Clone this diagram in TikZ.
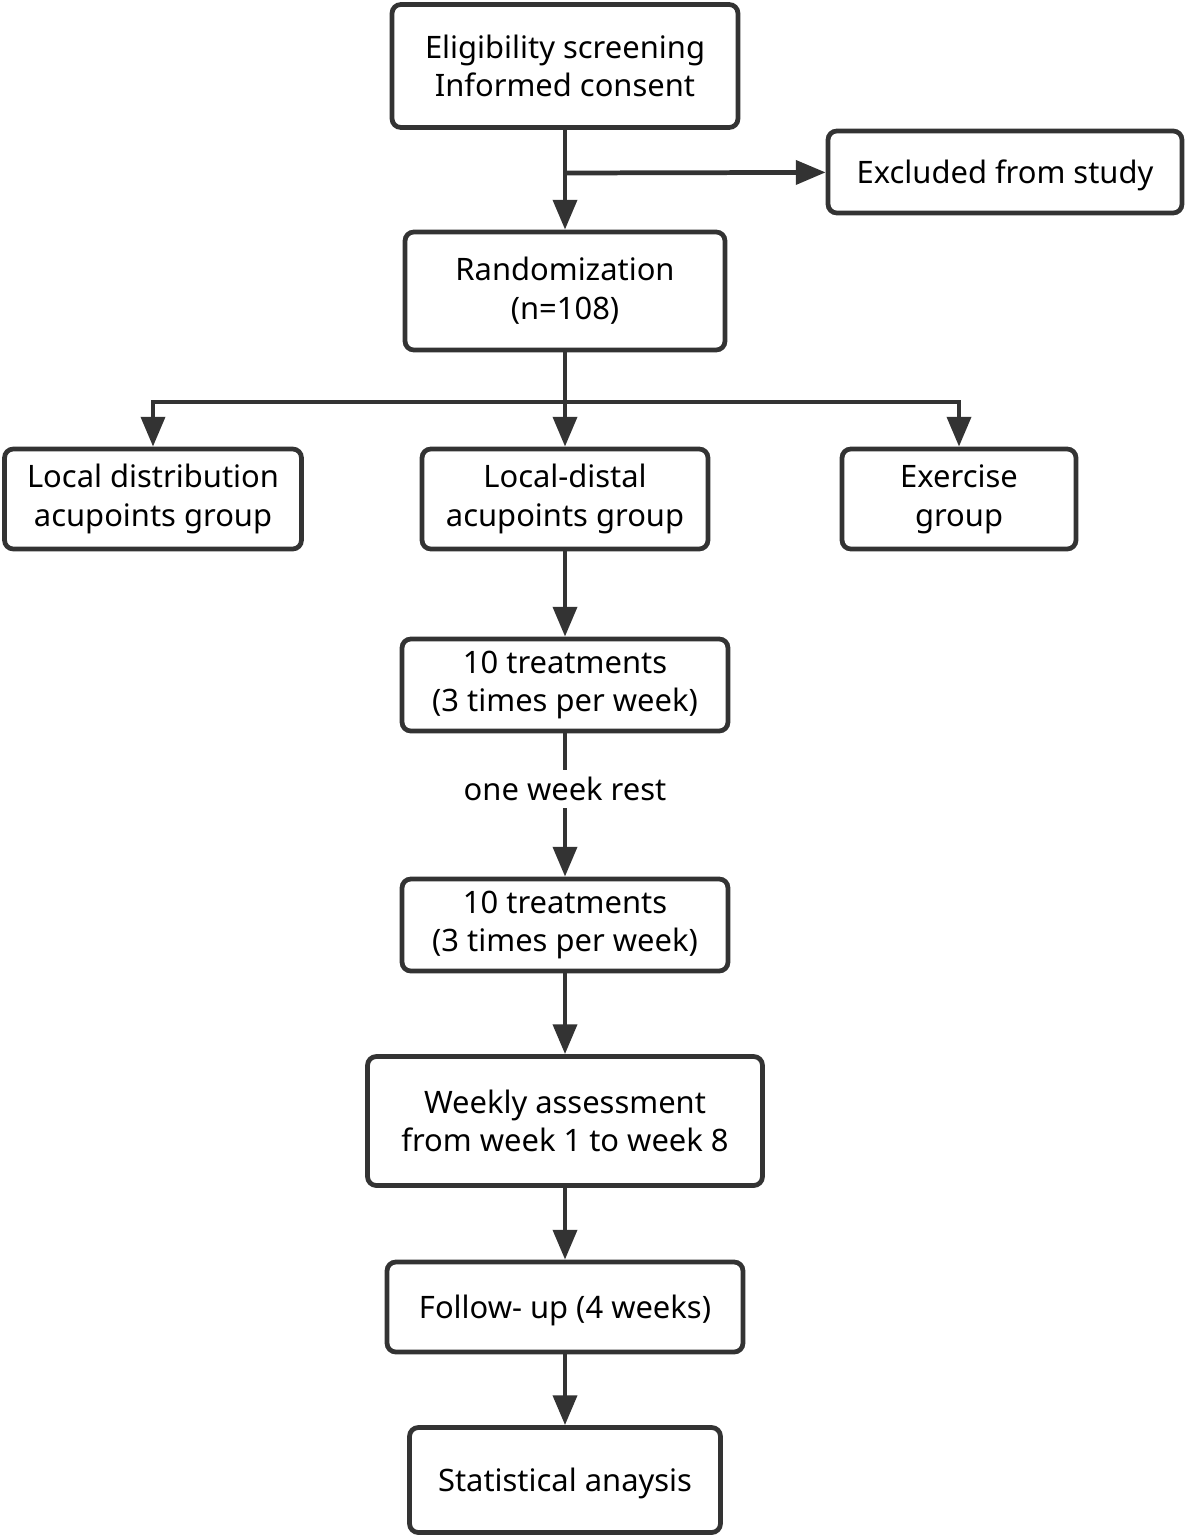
\documentclass[tikz,border=0pt]{standalone}
\usepackage{fontspec}
\setmainfont{Noto Sans}
\usetikzlibrary{arrows.meta, positioning}
\definecolor{linegray}{HTML}{333333}

\begin{document}
\begin{tikzpicture}[x=0.02cm, y=-0.02cm,
        box/.style={draw=linegray, line width=2.7pt, rounded corners=5pt, fill=white,
            align=center, inner sep=0pt, font=\fontsize{17.6}{22}\selectfont,
            execute at begin node={\rule{0pt}{1.0em}}},
        flow/.style={draw=linegray, line width=2.7pt, -{Triangle[length=17pt, width=13.5pt]}},
        plain/.style={draw=linegray, line width=2.7pt}]
        \useasboundingbox (0,0) rectangle (1186,1537);
        \node[box, minimum width=6.92cm, minimum height=2.46cm] (elig) at (565,66) {Eligibility screening\\Informed consent};
        \node[box, minimum width=7.08cm, minimum height=1.64cm] (excl) at (1005,172) {Excluded from study};
        \node[box, minimum width=6.4cm, minimum height=2.36cm] (rand) at (565,291) {Randomization\\(n=108)};
        \node[box, minimum width=5.94cm, minimum height=2cm] (local) at (153,499) {Local distribution\\acupoints group};
        \node[box, minimum width=5.72cm, minimum height=2cm] (distal) at (565,499) {Local-distal\\acupoints group};
        \node[box, minimum width=4.68cm, minimum height=2cm] (exer) at (959,499) {Exercise\\group};
        \node[box, minimum width=6.52cm, minimum height=1.84cm] (treatA) at (565,685) {10 treatments\\(3 times per week)};
        \node[font=\fontsize{17.6}{22}\selectfont, inner sep=4pt] (rest) at (565,789) {one week rest};
        \node[box, minimum width=6.52cm, minimum height=1.84cm] (treatB) at (565,925) {10 treatments\\(3 times per week)};
        \node[box, minimum width=7.9cm, minimum height=2.58cm] (weekly) at (565,1121) {Weekly assessment\\from week 1 to week 8};
        \node[box, minimum width=7.12cm, minimum height=1.8cm] (follow) at (565,1307) {Follow- up (4 weeks)};
        \node[box, minimum width=6.22cm, minimum height=2.1cm] (stat) at (565,1480) {Statistical anaysis};
        \coordinate (split) at (565,173);
        \coordinate (fork) at (565,402);
        \draw[flow] (elig) -- (rand);
        \draw[flow] (split) -- (excl);
        \draw[flow] (rand) -- (distal);
        \draw[flow] (fork) -| (local);
        \draw[flow] (fork) -| (exer);
        \draw[flow] (distal) -- (treatA);
        \draw[plain] (treatA) -- (rest);
        \foreach \from/\to in
        {rest/treatB,treatB/weekly,weekly/follow,follow/stat} \draw[flow] (\from) -- (\to);
\end{tikzpicture}
\end{document}
